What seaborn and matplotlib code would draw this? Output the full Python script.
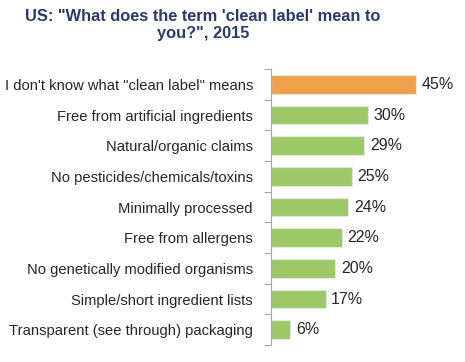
import matplotlib
matplotlib.use("Agg")
import matplotlib.pyplot as plt
import pandas as pd
import seaborn as sns

# Survey answers, top to bottom
categories = [
    "I don't know what \"clean label\" means",
    "Free from artificial ingredients",
    "Natural/organic claims",
    "No pesticides/chemicals/toxins",
    "Minimally processed",
    "Free from allergens",
    "No genetically modified organisms",
    "Simple/short ingredient lists",
    "Transparent (see through) packaging",
]
shares = [45, 30, 29, 25, 24, 22, 20, 17, 6]
title = "US: \"What does the term 'clean label' mean to\nyou?\", 2015"

ORANGE = "#EFA24A"
GREEN = "#9CC865"
TEXT = "#262626"
NAVY = "#2B3A6B"

sns.set_theme(style="white")
plt.rcParams["font.family"] = ["Liberation Sans", "DejaVu Sans"]

df = pd.DataFrame({"answer": categories, "share": shares})
colors = [ORANGE] + [GREEN] * (len(categories) - 1)

fig = plt.figure(figsize=(4.65, 3.62), dpi=100)
ax = fig.add_axes([271 / 465, 1 - 345 / 362, (432 - 271) / 465, (345 - 69) / 362])

sns.barplot(data=df, x="share", y="answer", hue="answer", palette=colors,
            saturation=1, legend=False, width=0.6, edgecolor="#E6E6E6",
            linewidth=0.8, ax=ax)

ax.set_xlim(0, 50)
ax.set_ylim(len(categories) - 0.5, -0.5)
ax.set_xlabel("")
ax.set_ylabel("")
ax.set_xticks([])
ax.set_yticks([i + 0.5 for i in range(-1, len(categories))], minor=True)
ax.set_yticks(range(len(categories)))
ax.set_yticklabels(categories, fontsize=10.65, color=TEXT)
ax.tick_params(axis="y", which="major", length=0, pad=13)
ax.tick_params(axis="y", which="minor", length=5, width=0.8, color="#A6A6A6", left=True)

for s in ["top", "right", "bottom"]:
    ax.spines[s].set_visible(False)
ax.spines["left"].set_color("#A6A6A6")
ax.spines["left"].set_linewidth(0.8)

for i, v in enumerate(shares):
    ax.text(v + 1.7, i, f"{v}%", va="center", ha="left", fontsize=11.5, color=TEXT)

fig.text(203 / 465, 1 - 9 / 362, title, ha="center", va="top", fontsize=11.8,
         fontweight="bold", color=NAVY, linespacing=1.2)

fig.savefig("out.png", dpi=100)
